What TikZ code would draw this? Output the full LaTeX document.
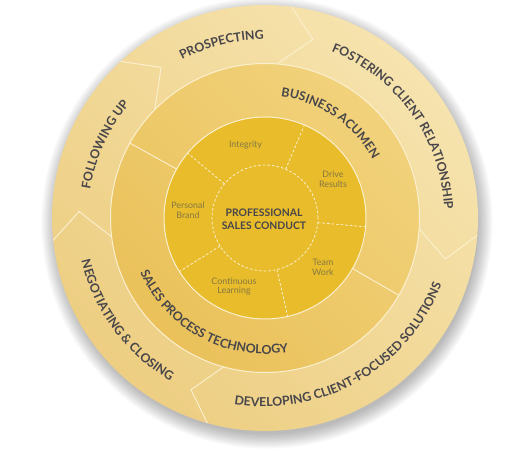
\documentclass[tikz,border=0pt]{standalone}
\usepackage{fontspec}
\setmainfont{Lato}
\usetikzlibrary{decorations.text}
\definecolor{outerLight}{HTML}{F6E3AE}
\definecolor{outerDark}{HTML}{EDCE82}
\definecolor{midLight}{HTML}{F1D27B}
\definecolor{midDark}{HTML}{EAC15A}
\definecolor{innerFill}{HTML}{E8BC2B}
\definecolor{sepLine}{HTML}{FBF0D0}
\definecolor{darkText}{HTML}{48464A}
\definecolor{softText}{HTML}{877842}
\newcommand\ringfont{\fontsize{12.4}{12.4}\selectfont\bfseries\color{darkText}}
\tikzset{
  ringlabel/.style={decorate, decoration={text along path, text align=center,
      text format delimiters={|}{|}, text={|\ringfont|#1}}},
  seg/.style={draw=sepLine, line width=0.9pt, line join=miter},
  dashsep/.style={draw=sepLine, line width=0.8pt, dash pattern=on 2.6pt off 2pt},
  smalllabel/.style={font=\fontsize{8.9}{9.7}\selectfont, text=softText, align=center, inner sep=0pt},
  centerlabel/.style={font=\fontsize{10.4}{12.7}\selectfont\bfseries, text=darkText, align=center, inner sep=0pt},
}
\begin{document}
\begin{tikzpicture}[x=1pt,y=1pt]
\useasboundingbox (0,0) rectangle (512,455);
\fill[white] (0,0) rectangle (512,455);
\begin{scope}[shift={(265,237)}]
  % soft shadow
  \foreach \k in {1,...,12} \fill[black, opacity=0.022] (2,-5) circle ({210+1.3*\k});
  % outer ring
  \shade[top color=outerLight, bottom color=outerDark, shading angle=-45] (0,0) circle (213);
  % middle ring
  \shade[top color=midLight, bottom color=midDark, shading angle=-45] (0,0) circle (154.5);
  \draw[sepLine, line width=1pt] (0,0) circle (154.5);
  % inner disc
  \fill[innerFill] (0,0) circle (101);
  \draw[sepLine, line width=1pt] (0,0) circle (101);
  % middle ring separators
  \draw[seg] (151:101) -- (151:154.5);
  \draw[seg] (-30:101) -- (-30:154.5);
  % chevrons of the outer ring
  \begin{scope}
    \clip (0,0) circle (213);
    \draw[seg] (83.5:216) -- (75:185) -- (85.5:154.5);
    \draw[seg] (-4:216) -- (-12.8:185) -- (-4:154.5);
    \draw[seg] (-105:216) -- (-113.3:187) -- (-105.5:154.5);
    \draw[seg] (186.7:216) -- (178:186) -- (187:154.5);
    \draw[seg] (133.3:216) -- (124.6:183) -- (135.5:154.5);
  \end{scope}
  % inner dashed structure
  \draw[dashsep] (0,0) circle (53);
  \foreach \a in {67,-5,-77,-148,140} \draw[dashsep] (\a:53) -- (\a:101);
  % curved labels, outer ring
  \path[ringlabel=PROSPECTING] (150:178.5) arc[start angle=150, end angle=58, radius=178.5];
  \path[ringlabel=FOSTERING CLIENT RELATIONSHIP] (95.5:179.5) arc[start angle=95.5, end angle=-24.5, radius=179.5];
  \path[ringlabel=DEVELOPING CLIENT-FOCUSED SOLUTIONS] (-120:188.5) arc[start angle=-120, end angle=0, radius=188.5];
  \path[ringlabel=NEGOTIATING {\&} CLOSING] (166.5:188.5) arc[start angle=166.5, end angle=266.5, radius=188.5];
  \path[ringlabel=FOLLOWING UP] (195.4:177) arc[start angle=195.4, end angle=115.4, radius=177];
  % curved labels, middle ring
  \path[ringlabel=BUSINESS ACUMEN] (110.5:122.5) arc[start angle=110.5, end angle=0.5, radius=122.5];
  \path[ringlabel=SALES PROCESS TECHNOLOGY] (176.7:136) arc[start angle=176.7, end angle=306.7, radius=136];
  % inner labels
  \node[smalllabel] (integrity) at (-19.5,73) {Integrity};
  \node[smalllabel] (drive) at (68,38.5) {Drive\\Results};
  \node[smalllabel] (team) at (58,-49.5) {Team\\Work};
  \node[smalllabel] (learning) at (-31,-68.5) {Continuous\\Learning};
  \node[smalllabel] (brand) at (-77,8) {Personal\\Brand};
  \node[centerlabel] (core) at (-1,-1.5) {PROFESSIONAL\\SALES CONDUCT};
\end{scope}
\end{tikzpicture}
\end{document}
